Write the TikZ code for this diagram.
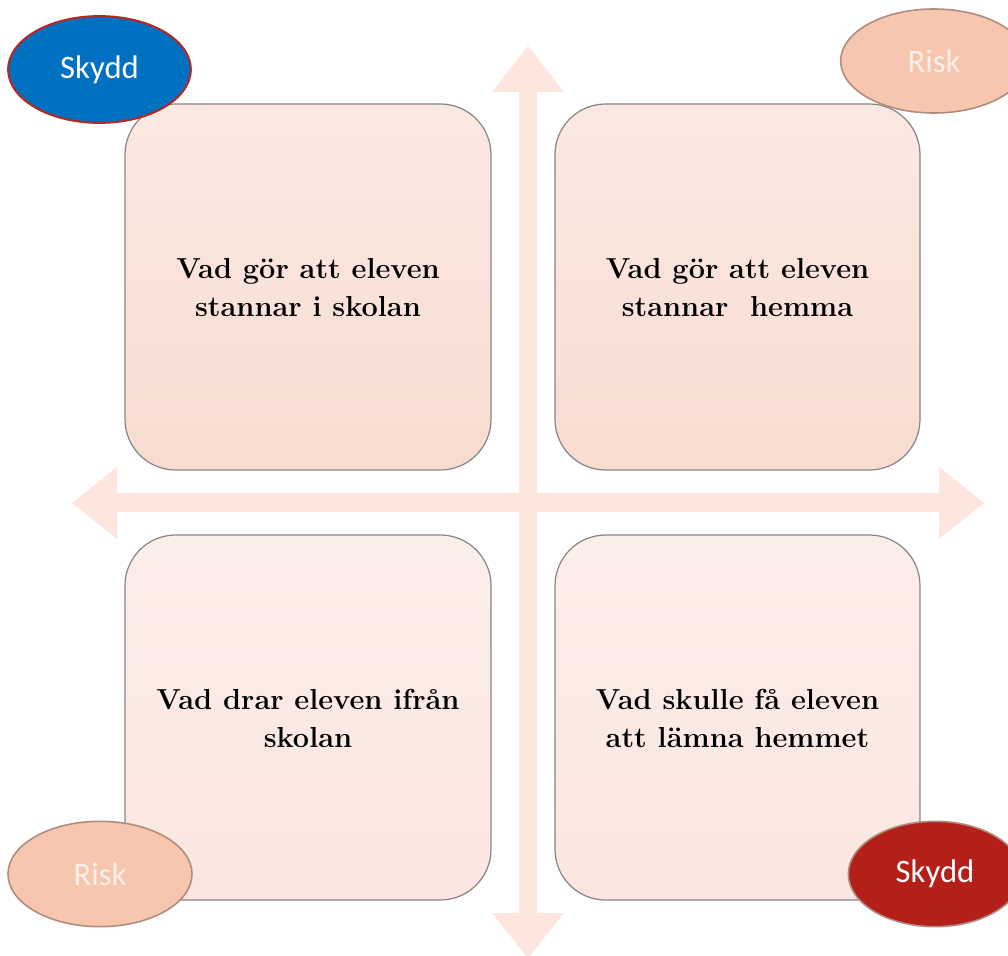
\documentclass[tikz,border=0pt]{standalone}
\usepackage{fontspec}
\newfontfamily\calibri{Carlito}
\usetikzlibrary{shapes.geometric}
\definecolor{arrowc}{HTML}{FCE6DD}
\definecolor{boxline}{HTML}{858585}
\definecolor{uptop}{HTML}{FAE9E2}
\definecolor{upbot}{HTML}{F8DCD1}
\definecolor{lotop}{HTML}{FCEEE9}
\definecolor{lobot}{HTML}{FAE6DF}
\definecolor{skyblue}{HTML}{0070C0}
\definecolor{skyline}{HTML}{B0282A}
\definecolor{riskfill}{HTML}{F7C6AE}
\definecolor{riskline}{HTML}{B08C7C}
\definecolor{riskText}{HTML}{FDF0EB}
\definecolor{skyred}{HTML}{B51F1A}
\begin{document}
\begin{tikzpicture}[x=0.75pt,y=-0.75pt,
  quad/.style={draw=boxline, line width=0.9pt, rounded corners=38pt},
  upper/.style={quad, top color=uptop, bottom color=upbot},
  lower/.style={quad, top color=lotop, bottom color=lobot},
  qtext/.style={align=center, font=\fontsize{21.7}{28.5}\selectfont\bfseries, text=black},
  oval/.style={ellipse, inner sep=0pt, font=\calibri\fontsize{24.5}{28}\selectfont},
]
\clip (0,0) rectangle (1008,956);
\fill[white] (0,0) rectangle (1008,956);
% cross arrows
\fill[arrowc] (519,92) -- (492,92) -- (528,46) -- (564,92) -- (537,92) -- (537,913) -- (564,913) -- (528,958) -- (492,913) -- (519,913) -- cycle;
\fill[arrowc] (117,493) -- (117,467) -- (72,503) -- (117,539) -- (117,512) -- (939,512) -- (939,539) -- (984,503) -- (939,467) -- (939,493) -- cycle;
% quadrant boxes
\path[upper] (125,104) rectangle (491,470);
\node[qtext] (tl) at (308,288) {Vad gör att eleven\\stannar i skolan};
\path[upper] (555,104) rectangle (920,470);
\node[qtext] (tr) at (737.5,288) {Vad gör att eleven\\stannar\ \ hemma};
\path[lower] (125,535) rectangle (491,900);
\node[qtext] (bl) at (308,718) {Vad drar eleven ifrån\\skolan};
\path[lower] (555,535) rectangle (920,900);
\node[qtext] (br) at (737.5,718) {Vad skulle få eleven\\att lämna hemmet};
% ovals
\node[oval, fill=skyblue, draw=skyline, line width=1.6pt, minimum width=137pt, minimum height=80pt, text=white] (s1) at (99.5,69.5) {Skydd};
\node[oval, fill=riskfill, draw=riskline, line width=1.2pt, minimum width=140pt, minimum height=78pt, text=riskText] (r1) at (934,61) {Risk};
\node[oval, fill=riskfill, draw=riskline, line width=1.2pt, minimum width=138pt, minimum height=79pt, text=riskText] (r2) at (100,874) {Risk};
\node[oval, fill=skyred, draw=riskline, line width=1.2pt, minimum width=130pt, minimum height=79pt, text=white] (s2) at (935,874) {Skydd};
\end{tikzpicture}
\end{document}
